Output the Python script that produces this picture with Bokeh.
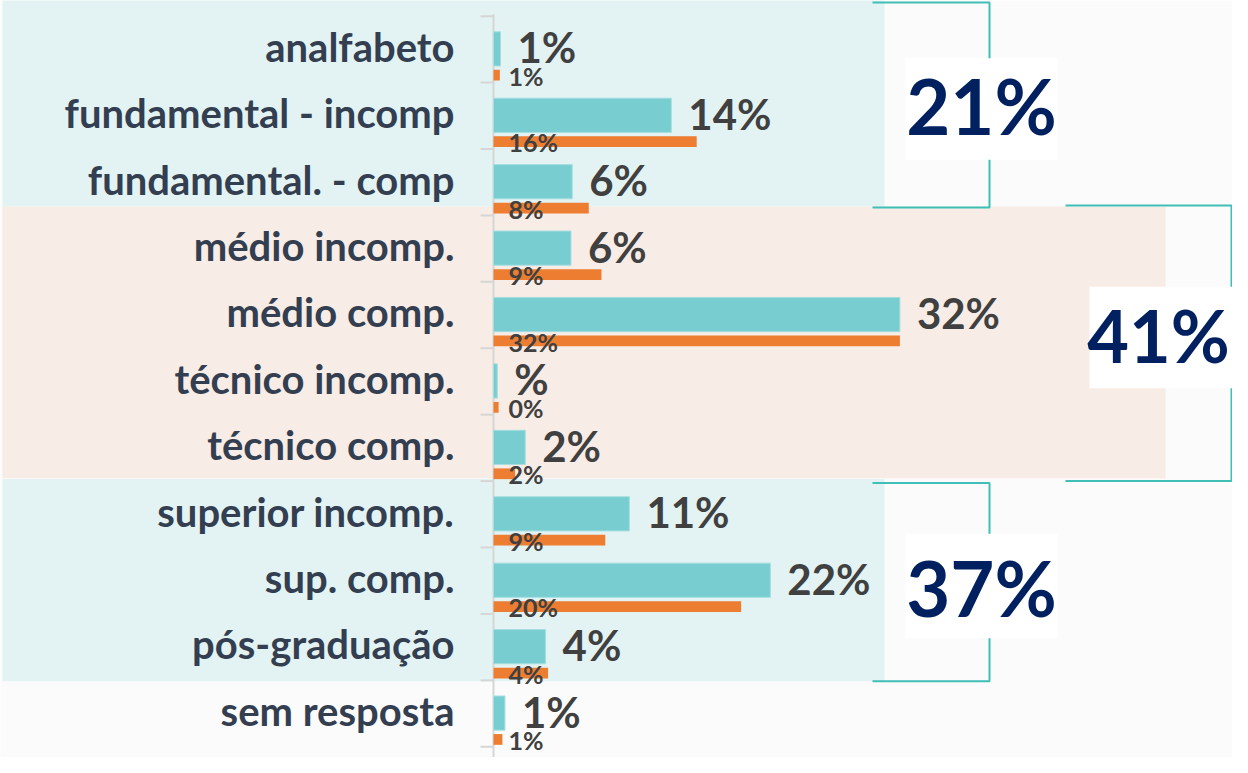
from bokeh.plotting import figure
from bokeh.models import Range1d, ColumnDataSource, BoxAnnotation
from bokeh.core.properties import value
from bokeh.embed import file_html
from bokeh.resources import INLINE

# ---------------- data ----------------
categories = ["analfabeto", "fundamental - incomp", "fundamental. - comp",
              "médio incomp.", "médio comp.", "técnico incomp.", "técnico comp.",
              "superior incomp.", "sup. comp.", "pós-graduação", "sem resposta"]
teal_values = [0.55, 14.0, 6.2, 6.1, 32.0, 0.3, 2.5, 10.7, 21.8, 4.1, 0.9]
teal_labels = ["1%", "14%", "6%", "6%", "32%", "%", "2%", "11%", "22%", "4%", "1%"]
orange_values = [0.5, 16.0, 7.5, 8.5, 32.0, 0.4, 1.7, 8.8, 19.5, 4.3, 0.7]
orange_labels = ["1%", "16%", "8%", "9%", "32%", "0%", "2%", "9%", "20%", "4%", "1%"]
group_labels = ["21%", "41%", "37%"]
group_first_row = [0, 3, 7]
group_last_row = [2, 6, 9]

# ---------------- layout helpers (reference pixel -> data) ----------------
PX0, SX = 501.0, 12.7      # x pixel of 0 %, pixels per %
PY0, SY = 60.0, 68.0       # y pixel of first row centre, pixels per row
OFF = 8                    # page margin


def X(px):
    return (px - PX0) / SX


def Y(py):
    return (py - PY0) / SY


W, H = 1232, 757
p = figure(width=W, height=H, output_backend="svg", toolbar_location=None,
           x_range=Range1d(X(OFF), X(OFF + W)),
           y_range=Range1d(Y(785), Y(10)),
           x_axis_location=None, y_axis_location=None, min_border=0)
p.outline_line_color = None
p.grid.grid_line_color = None
p.background_fill_color = "#FBFBFB"
p.border_fill_color = "#FBFBFB"

TEAL_BG = "#E3F3F3"
PEACH_BG = "#F8ECE6"
BRACKET = "#3FBFB5"
NAVY = "#002060"
FONT = value("Lato")

# background bands for the three groups
bands = [(10, 892, 8, 221, TEAL_BG), (10, 1173, 221, 499, PEACH_BG), (10, 892, 500, 707, TEAL_BG)]
for l, r, t, b, c in bands:
    p.add_layout(BoxAnnotation(left=X(l), right=X(r), top=Y(t), bottom=Y(b),
                               fill_color=c, fill_alpha=1, line_color=None, level="underlay"))

n = len(categories)
rows = list(range(n))

# axis line and tick marks
p.segment(x0=[0], x1=[0], y0=[Y(24)], y1=[Y(800)], line_color="#D6D6D6", line_width=2)
bounds = [i - 0.5 for i in range(n + 1)]
p.segment(x0=[X(488)] * len(bounds), x1=[0] * len(bounds), y0=bounds, y1=bounds,
          line_color="#D6D6D6", line_width=2)

src = ColumnDataSource(dict(
    y=rows, cat=categories, teal=teal_values, tl=teal_labels,
    orange=orange_values, ol=orange_labels,
    cy=[r - 0.04 for r in rows],
    ty=[r - 0.007 for r in rows], oy=[r + 0.39 for r in rows],
    tly=[r - 0.03 for r in rows],
    tlx=[v + 17 / SX for v in teal_values], olx=[15 / SX] * n,
    oly=[r + 0.40 for r in rows],
))

p.hbar(y="ty", left=0, right="teal", height=35 / SY, source=src,
       fill_color="#78CDD0", line_color="#A6DEE0", line_width=1)
p.hbar(y="oy", left=0, right="orange", height=11 / SY, source=src,
       fill_color="#ED7D31", line_color=None)

p.text(x=X(462), y="cy", text="cat", source=src, text_align="right", text_baseline="middle",
       text_font=FONT, text_font_style="bold", text_font_size="40px", text_color="#333F50")
p.text(x="tlx", y="tly", text="tl", source=src, text_align="left", text_baseline="middle",
       text_font=FONT, text_font_style="bold", text_font_size="42px", text_color="#404040")
p.text(x="olx", y="oly", text="ol", source=src, text_align="left", text_baseline="middle",
       text_font=FONT, text_font_style="bold", text_font_size="25px", text_color="#404040")

# brackets, white boxes and group totals
brackets = [[(880, 12), (997, 12), (997, 222), (880, 222)],
            [(1073, 220), (1239, 220), (1239, 502), (1073, 502)],
            [(880, 504), (997, 504), (997, 707), (880, 707)]]
for br in brackets:
    p.line([X(a) for a, _ in br], [Y(b) for _, b in br], line_color=BRACKET, line_width=2)

boxes = [(913, 1065, 69, 173), (1097, 1260, 303, 407), (913, 1065, 556, 663)]
p.quad(left=[X(b[0]) for b in boxes], right=[X(b[1]) for b in boxes],
       top=[Y(b[2]) for b in boxes], bottom=[Y(b[3]) for b in boxes],
       fill_color="white", line_color=None)

group_text_pos = [(989, 117), (1166, 352), (989, 611)]
group_font = ["76px", "72px", "76px"]
p.text(x=[X(a) for a, _ in group_text_pos], y=[Y(b) for _, b in group_text_pos],
       text=group_labels, text_align="center", text_baseline="middle",
       text_font=FONT, text_font_style="bold", text_font_size=group_font, text_color=NAVY)

open("out.html", "w").write(file_html(p, INLINE))
